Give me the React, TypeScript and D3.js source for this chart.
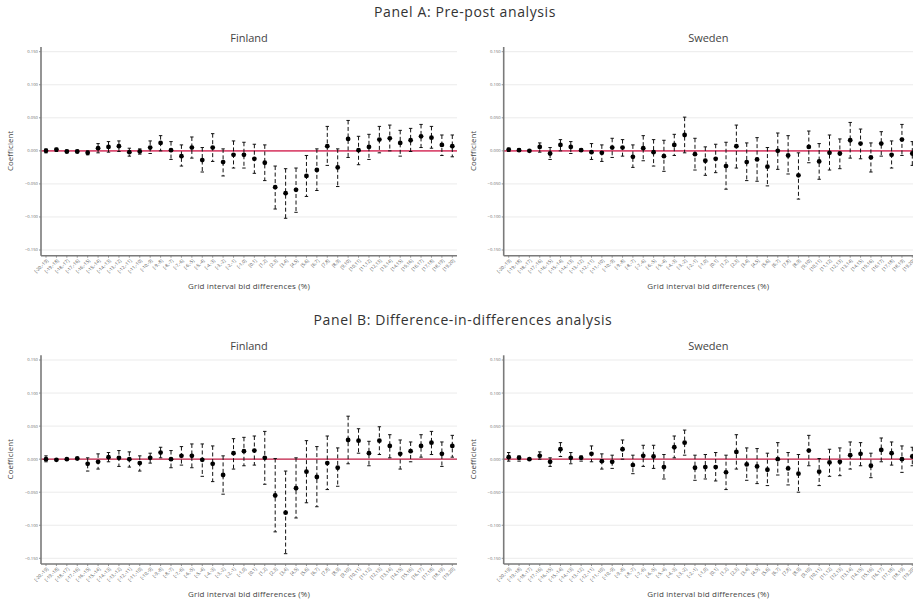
import React from 'react';
import * as d3 from 'd3';

// Grid interval categories shown on the x axis
const categories = [
  '[-20,-19]', '[-19,-18]', '[-18,-17]', '[-17,-16]', '[-16,-15]', '[-15,-14]', '[-14,-13]', '[-13,-12]',
  '[-12,-11]', '[-11,-10]', '[-10,-9]', '[-9,-8]', '[-8,-7]', '[-7,-6]', '[-6,-5]', '[-5,-4]',
  '[-4,-3]', '[-3,-2]', '[-2,-1]', '[-1,0]', '[0,1]', '[1,2]', '[2,3]', '[3,4]',
  '[4,5]', '[5,6]', '[6,7]', '[7,8]', '[8,9]', '[9,10]', '[10,11]', '[11,12]',
  '[12,13]', '[13,14]', '[14,15]', '[15,16]', '[16,17]', '[17,18]', '[18,19]', '[19,20]'
];

const yTicks = [-0.15, -0.1, -0.05, 0, 0.05, 0.1, 0.15];

// Panel A, Finland
const finPreCoef = [0.000, 0.002, -0.001, -0.001, -0.003, 0.004, 0.006, 0.007, -0.002, -0.001,
  0.005, 0.012, 0.001, -0.008, 0.005, -0.014, 0.005, -0.017, -0.006, -0.006,
  -0.012, -0.018, -0.055, -0.064, -0.059, -0.038, -0.029, 0.007, -0.025, 0.018,
  0.001, 0.006, 0.017, 0.019, 0.012, 0.016, 0.022, 0.020, 0.009, 0.007];
const finPreLow = [-0.003, -0.001, -0.003, -0.003, -0.006, -0.003, -0.002, -0.001, -0.008, -0.005,
  -0.004, 0.000, -0.013, -0.023, -0.011, -0.032, -0.016, -0.038, -0.026, -0.026,
  -0.034, -0.045, -0.088, -0.102, -0.093, -0.069, -0.060, -0.022, -0.054, -0.010,
  -0.021, -0.013, -0.003, 0.000, -0.008, -0.001, 0.005, 0.004, -0.007, -0.009];
const finPreHigh = [0.003, 0.004, 0.001, 0.001, 0.000, 0.011, 0.014, 0.015, 0.004, 0.003,
  0.015, 0.023, 0.014, 0.009, 0.021, 0.005, 0.026, 0.003, 0.015, 0.013,
  0.010, 0.009, -0.023, -0.027, -0.026, -0.007, 0.003, 0.037, 0.003, 0.046,
  0.022, 0.025, 0.037, 0.039, 0.031, 0.034, 0.040, 0.037, 0.024, 0.024];

// Panel A, Sweden
const swePreCoef = [0.002, 0.001, 0.000, 0.006, -0.004, 0.009, 0.006, 0.001, -0.002, -0.003,
  0.005, 0.005, -0.009, 0.004, -0.002, -0.008, 0.009, 0.024, -0.005, -0.015,
  -0.012, -0.023, 0.007, -0.017, -0.013, -0.024, 0.000, -0.007, -0.037, 0.006,
  -0.016, -0.003, -0.004, 0.016, 0.011, -0.010, 0.011, -0.006, 0.017, -0.004];
const swePreLow = [-0.001, -0.001, -0.001, -0.002, -0.013, 0.000, -0.004, -0.001, -0.013, -0.016,
  -0.010, -0.008, -0.025, -0.015, -0.023, -0.031, -0.007, -0.003, -0.029, -0.037,
  -0.033, -0.058, -0.026, -0.045, -0.046, -0.053, -0.028, -0.035, -0.073, -0.018,
  -0.043, -0.029, -0.027, -0.011, -0.012, -0.032, -0.008, -0.026, -0.007, -0.022];
const swePreHigh = [0.004, 0.003, 0.001, 0.012, 0.005, 0.017, 0.014, 0.003, 0.011, 0.009,
  0.019, 0.017, 0.009, 0.023, 0.017, 0.016, 0.025, 0.051, 0.019, 0.006,
  0.010, 0.013, 0.039, 0.012, 0.020, 0.005, 0.027, 0.023, -0.003, 0.030,
  0.011, 0.024, 0.018, 0.043, 0.033, 0.012, 0.029, 0.015, 0.040, 0.014];

// Panel B, Finland
const finDidCoef = [0.000, -0.001, 0.000, 0.001, -0.007, -0.004, 0.003, 0.002, 0.000, -0.006,
  0.002, 0.010, 0.000, 0.005, 0.005, -0.001, -0.007, -0.024, 0.009, 0.012,
  0.013, 0.002, -0.055, -0.081, -0.044, -0.019, -0.027, -0.006, -0.013, 0.029,
  0.028, 0.009, 0.028, 0.020, 0.008, 0.012, 0.020, 0.025, 0.008, 0.020];
const finDidLow = [-0.004, -0.002, -0.001, 0.000, -0.018, -0.015, -0.004, -0.011, -0.012, -0.018,
  -0.006, 0.002, -0.013, -0.009, -0.013, -0.026, -0.034, -0.053, -0.015, -0.010,
  -0.009, -0.038, -0.110, -0.143, -0.089, -0.066, -0.072, -0.046, -0.041, -0.007,
  0.009, -0.010, 0.007, 0.002, -0.015, -0.004, 0.003, 0.007, -0.011, 0.003];
const finDidHigh = [0.005, 0.000, 0.001, 0.002, 0.002, 0.008, 0.010, 0.013, 0.011, 0.005,
  0.009, 0.018, 0.013, 0.019, 0.023, 0.023, 0.020, 0.005, 0.031, 0.033,
  0.035, 0.042, 0.001, -0.018, 0.002, 0.028, 0.019, 0.035, 0.017, 0.065,
  0.046, 0.027, 0.049, 0.037, 0.029, 0.026, 0.037, 0.042, 0.026, 0.036];

// Panel B, Sweden
const sweDidCoef = [0.003, 0.002, 0.000, 0.005, -0.004, 0.015, 0.002, 0.002, 0.008, -0.003,
  -0.004, 0.015, -0.009, 0.005, 0.004, -0.012, 0.018, 0.025, -0.013, -0.012,
  -0.012, -0.020, 0.011, -0.008, -0.011, -0.016, 0.000, -0.014, -0.022, 0.013,
  -0.019, -0.005, -0.004, 0.006, 0.008, -0.010, 0.014, 0.009, 0.000, 0.004];
const sweDidLow = [-0.003, -0.003, -0.001, 0.000, -0.011, 0.004, -0.007, -0.003, -0.004, -0.015,
  -0.014, 0.000, -0.022, -0.011, -0.014, -0.030, 0.002, 0.006, -0.032, -0.030,
  -0.033, -0.046, -0.015, -0.032, -0.037, -0.040, -0.024, -0.039, -0.050, -0.010,
  -0.040, -0.026, -0.025, -0.015, -0.010, -0.028, -0.004, -0.009, -0.020, -0.010];
const sweDidHigh = [0.010, 0.005, 0.001, 0.011, 0.002, 0.025, 0.010, 0.005, 0.020, 0.008,
  0.006, 0.029, 0.006, 0.021, 0.021, 0.007, 0.035, 0.044, 0.006, 0.007,
  0.010, 0.006, 0.037, 0.017, 0.016, 0.009, 0.025, 0.010, 0.007, 0.036,
  0.001, 0.015, 0.017, 0.026, 0.025, 0.009, 0.032, 0.026, 0.020, 0.018];

const FONT = '"Open Sans", "DejaVu Sans", sans-serif';
const fmt = d3.format('.3f');

interface PanelProps {
  title: string;
  axisX: number;
  xStart: number;
  xEnd: number;
  right: number;
  dy: number;
  coef: number[];
  low: number[];
  high: number[];
  zeroColor: string;
  zeroWidth: number;
}

const Panel: React.FC<PanelProps> = ({ title, axisX, xStart, xEnd, right, dy, coef, low, high, zeroColor, zeroWidth }) => {
  const y = d3.scaleLinear().domain([-0.15, 0.15]).range([250 + dy, 51.7 + dy]);
  const x = d3.scalePoint<string>().domain(categories).range([xStart, xEnd]);
  const axisTop = 47 + dy;
  const axisBottom = 255.7 + dy;
  const midX = (axisX + right) / 2;

  return (
    <g>
      <text x={midX} y={41.5 + dy} textAnchor="middle" fontSize={11} fill="#444">{title}</text>

      {yTicks.map(t => (
        <line key={'g' + t} x1={axisX} x2={right} y1={y(t)} y2={y(t)} stroke="#ebebeb" strokeWidth={1} />
      ))}
      <line x1={axisX} x2={right} y1={y(0)} y2={y(0)} stroke={zeroColor} strokeWidth={zeroWidth} />

      {/* y axis */}
      <line x1={axisX} x2={axisX} y1={axisTop} y2={axisBottom} stroke="#7a7a7a" strokeWidth={1.6} />
      {yTicks.map(t => (
        <g key={'t' + t}>
          <line x1={axisX - 2} x2={axisX} y1={y(t)} y2={y(t)} stroke="#7a7a7a" strokeWidth={0.8} />
          <text x={axisX - 3} y={y(t)} dy="0.35em" textAnchor="end" fontSize={4.2} fill="#666">{fmt(t)}</text>
        </g>
      ))}
      <text transform={`translate(${axisX - 28},${y(0)}) rotate(-90)`} textAnchor="middle" fontSize={7.8} letterSpacing={0.15} fill="#444">Coefficient</text>

      {/* x axis */}
      <line x1={axisX} x2={right} y1={axisBottom} y2={axisBottom} stroke="#7a7a7a" strokeWidth={1.6} />
      {categories.map(c => (
        <g key={'x' + c}>
          <line x1={x(c)} x2={x(c)} y1={axisBottom} y2={axisBottom + 2} stroke="#7a7a7a" strokeWidth={0.8} />
          <text transform={`translate(${(x(c) as number) + 1.5},${axisBottom + 4}) rotate(-45)`} textAnchor="end" dy="0.35em" fontSize={4.6} fill="#555">{c}</text>
        </g>
      ))}
      <text x={midX} y={axisBottom + 33} textAnchor="middle" fontSize={8} letterSpacing={0.15} fill="#444">Grid interval bid differences (%)</text>

      {/* error bars and estimates */}
      {categories.map((c, i) => {
        const cx = x(c) as number;
        return (
          <g key={'e' + c}>
            <line x1={cx} x2={cx} y1={y(high[i])} y2={y(low[i])} stroke="#111" strokeWidth={1} strokeDasharray="4,2.5" />
            <line x1={cx - 1.7} x2={cx + 1.7} y1={y(high[i])} y2={y(high[i])} stroke="#111" strokeWidth={1} />
            <line x1={cx - 1.7} x2={cx + 1.7} y1={y(low[i])} y2={y(low[i])} stroke="#111" strokeWidth={1} />
            <circle cx={cx} cy={y(coef[i])} r={2.4} fill="#000" />
          </g>
        );
      })}
    </g>
  );
};

export default function App() {
  const dyB = 308.3;
  return (
    <svg width={913} height={603} style={{ position: 'absolute', left: 0, top: 0, background: '#fff' }} fontFamily={FONT}>
      <text x={465} y={16.5} textAnchor="middle" fontSize={14} letterSpacing={0.6} fill="#333">Panel A: Pre-post analysis</text>
      <Panel title="Finland" axisX={41} xStart={46} xEnd={452.3} right={457} dy={0}
        coef={finPreCoef} low={finPreLow} high={finPreHigh} zeroColor="#dc4f74" zeroWidth={1.6} />
      <Panel title="Sweden" axisX={503.7} xStart={508.7} xEnd={912.3} right={913} dy={0}
        coef={swePreCoef} low={swePreLow} high={swePreHigh} zeroColor="#dc4f74" zeroWidth={1.6} />

      <text x={463} y={16.5 + dyB} textAnchor="middle" fontSize={14} letterSpacing={0.6} fill="#333">Panel B: Difference-in-differences analysis</text>
      <Panel title="Finland" axisX={41} xStart={46} xEnd={452.3} right={457} dy={dyB}
        coef={finDidCoef} low={finDidLow} high={finDidHigh} zeroColor="#c42048" zeroWidth={1.1} />
      <Panel title="Sweden" axisX={503.7} xStart={508.7} xEnd={912.3} right={913} dy={dyB}
        coef={sweDidCoef} low={sweDidLow} high={sweDidHigh} zeroColor="#c42048" zeroWidth={1.1} />
    </svg>
  );
}
